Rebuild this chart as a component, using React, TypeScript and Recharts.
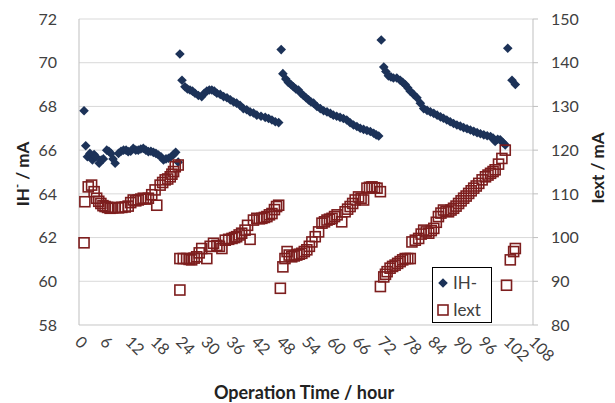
import React from "react";
import { ScatterChart, Scatter, XAxis, YAxis, CartesianGrid, Label } from "recharts";

// IH- (left axis), hours of operation and current in mA
const ihHours = [
  1.2, 1.6, 2.0, 2.6, 3.2, 3.6, 4.0, 4.8, 5.3, 5.8, 6.6, 7.1, 7.6, 8.1, 8.6, 9.4, 10.0, 10.6, 11.2, 11.7,
  12.3, 12.9, 13.5, 14.1, 14.7, 15.3, 15.9, 16.5, 17.1, 17.7, 18.3, 18.9, 19.5, 20.1, 20.7, 21.3, 21.9, 22.5, 23.0, 23.6,
  24.0, 24.5, 25.2, 25.8, 26.4, 27.0, 27.6, 28.4, 29.2, 29.8, 30.4, 31.0, 31.6, 32.2, 32.8, 33.6, 34.4, 35.2, 36.0,
  36.8, 37.5, 38.3, 39.1, 39.9, 40.7, 41.5, 42.3, 43.3, 44.3, 45.1, 45.9, 46.7, 47.5,
  48.1, 48.5, 49.2, 49.8, 50.4, 51.0, 51.6, 52.2, 52.8, 53.4, 54.0, 54.6, 55.2, 55.8, 56.6, 57.4, 58.2, 59.0, 59.8,
  60.5, 61.3, 62.1, 62.9, 63.7, 64.5, 65.3, 66.1, 66.9, 67.7, 68.5, 69.3, 70.1, 70.7, 71.3,
  71.9, 72.5, 73.0, 73.6, 74.2, 74.8, 75.6, 76.4, 77.0, 77.6, 78.2, 78.8, 79.6, 80.4, 81.2, 82.0, 82.8, 83.6, 84.4,
  85.2, 86.0, 86.7, 87.5, 88.3, 89.1, 89.9, 90.7, 91.5, 92.3, 93.1, 93.9, 94.7, 95.5, 96.3, 97.1, 97.9, 98.5, 99.0,
  99.6, 100.2, 100.8, 101.4, 102.0, 103.0, 103.8,
];
const ihValues = [
  67.8, 66.2, 65.7, 65.85, 65.55, 65.8, 65.7, 65.4, 65.55, 65.6, 66.0, 65.95, 65.85, 65.6, 65.4, 65.85, 65.95, 66.0, 66.0, 65.93,
  65.95, 66.08, 66.0, 66.0, 66.05, 66.08, 66.0, 65.93, 65.95, 65.9, 65.85, 65.78, 65.7, 65.55, 65.6, 65.63, 65.7, 65.8, 65.9, 65.45,
  70.4, 69.2, 68.9, 68.8, 68.75, 68.7, 68.6, 68.5, 68.45, 68.6, 68.7, 68.75, 68.75, 68.7, 68.6, 68.55, 68.45, 68.4, 68.3,
  68.2, 68.15, 68.05, 67.9, 67.85, 67.75, 67.7, 67.6, 67.55, 67.5, 67.45, 67.38, 67.3, 67.26,
  70.6, 69.5, 69.25, 69.1, 69.0, 68.9, 68.8, 68.75, 68.6, 68.5, 68.4, 68.3, 68.2, 68.15, 68.0, 67.9, 67.8, 67.75, 67.68,
  67.6, 67.55, 67.5, 67.45, 67.38, 67.25, 67.15, 67.08, 67.0, 66.95, 66.9, 66.85, 66.77, 66.7, 66.65,
  71.04, 69.8, 69.6, 69.4, 69.35, 69.3, 69.3, 69.2, 69.1, 69.0, 68.85, 68.7, 68.55, 68.4, 68.15, 67.9, 67.82, 67.75, 67.68,
  67.6, 67.52, 67.46, 67.38, 67.3, 67.22, 67.15, 67.1, 67.03, 66.98, 66.92, 66.86, 66.8, 66.75, 66.7, 66.66, 66.62, 66.55, 66.4,
  66.5, 66.47, 66.35, 66.24, 70.66, 69.2, 69.0,
];

// Iext (right axis)
const iextHours = [
  1.2, 1.4, 2.2, 3.0, 3.6, 4.2, 4.7, 5.2, 5.7, 6.2, 6.8, 7.4, 8.0, 8.6, 9.4, 10.2, 11.0, 11.7, 12.3, 12.9,
  13.5, 14.1, 14.7, 15.3, 15.9, 16.5, 17.3, 18.1, 18.5, 19.3, 19.9, 20.5, 21.1, 21.7, 22.1, 22.5, 22.9, 23.6,
  24.0, 24.0, 24.8, 25.6, 26.2, 26.8, 27.4, 28.0, 28.6, 29.2, 30.4, 31.2, 32.0, 32.8, 33.4, 34.0, 34.8, 35.6, 36.4,
  37.0, 37.5, 38.1, 38.7, 39.5, 40.1, 40.7, 41.5, 42.3, 42.9, 43.5, 44.1, 44.7, 45.3, 45.9, 46.5, 47.0, 47.5,
  47.9, 48.5, 49.0, 49.5, 50.0, 50.6, 51.2, 51.8, 52.4, 53.0, 53.6, 54.2, 54.8, 55.4, 56.2, 57.0, 57.8, 58.4, 59.0,
  59.6, 60.2, 60.8, 61.4, 62.5, 63.3, 63.9, 64.5, 65.1, 65.7, 66.5, 67.1, 67.7, 68.5, 69.1, 69.7, 70.3, 70.9, 71.7,
  71.7, 72.5, 72.9, 73.3, 74.0, 74.6, 75.2, 75.8, 76.4, 77.0, 77.6, 78.2, 78.8, 79.2, 80.0, 80.8, 81.4, 82.0, 82.6,
  83.2, 83.8, 84.4, 85.0, 85.5, 86.1, 86.7, 87.3, 87.9, 88.5, 89.1, 89.7, 90.3, 90.9, 91.5, 92.1, 92.7, 93.3, 93.9,
  94.5, 95.1, 95.9, 96.7, 97.3, 97.9, 98.5, 99.0, 99.8, 100.6, 101.4, 101.7, 102.6, 103.4, 103.8,
];
const iextValues = [
  98.8, 108.2, 111.6, 112.0, 110.5, 109.0, 108.3, 107.8, 107.3, 107.1, 106.9, 106.7, 106.8, 106.9, 106.8, 106.9, 107.0, 107.2, 108.0, 108.6,
  108.4, 108.6, 108.8, 109.0, 108.8, 109.0, 109.8, 110.9, 107.4, 112.0, 112.6, 113.2, 113.4, 113.9, 114.5, 115.1, 116.2, 116.6,
  88.0, 95.2, 95.2, 95.2, 95.0, 94.9, 95.3, 95.6, 96.5, 97.5, 95.2, 98.0, 98.7, 98.2, 98.0, 97.5, 99.4, 99.6, 99.8,
  100.0, 100.2, 100.6, 101.0, 101.7, 102.8, 99.6, 104.0, 104.4, 104.3, 104.4, 104.6, 104.8, 105.2, 105.5, 106.4, 107.1, 107.4,
  88.4, 93.3, 95.2, 96.8, 96.0, 95.6, 95.8, 96.0, 96.2, 96.4, 96.8, 97.2, 98.0, 99.0, 100.2, 101.3, 103.3, 103.6, 104.0,
  104.2, 104.4, 104.8, 105.2, 103.6, 105.9, 106.5, 107.1, 107.8, 108.6, 109.3, 109.0, 108.6, 111.3, 111.5, 111.6, 111.4, 111.3, 110.5,
  88.8, 91.0, 91.6, 92.2, 93.0, 93.4, 93.7, 94.1, 94.5, 94.9, 95.2, 95.2, 95.2, 99.0, 99.4, 99.8, 100.8, 101.7, 101.3,
  101.0, 101.6, 102.1, 103.5, 104.8, 105.6, 106.3, 106.0, 105.9, 106.3, 106.7, 107.2, 107.8, 108.4, 109.0, 109.5, 110.1, 110.7, 111.3,
  111.8, 112.4, 113.2, 113.9, 114.3, 114.7, 115.1, 115.5, 116.8, 118.1, 120.0, 89.1, 94.9, 96.8, 97.5,
];

const xTicks = [0, 6, 12, 18, 24, 30, 36, 42, 48, 54, 60, 66, 72, 78, 84, 90, 96, 102, 108];
const leftTicks = [58, 60, 62, 64, 66, 68, 70, 72];
const rightTicks = [80, 90, 100, 110, 120, 130, 140, 150];

const ihData = ihHours.map((h, i) => ({ h, v: ihValues[i] }));
const iextData = iextHours.map((h, i) => ({ h, v: iextValues[i] }));

const FONT = "Lato, 'Open Sans', sans-serif";
const NAVY = "#1c3258";
const MAROON = "#7d1e1e";
const TEXT = "#404040";

const Diamond = (props: any) => {
  const { cx, cy } = props;
  const r = 4.8;
  return <polygon points={`${cx},${cy - r} ${cx + r},${cy} ${cx},${cy + r} ${cx - r},${cy}`} fill={NAVY} />;
};

const Square = (props: any) => {
  const { cx, cy } = props;
  return <rect x={cx - 5} y={cy - 5} width={10} height={10} fill="none" stroke={MAROON} strokeWidth={1.6} />;
};

const XTick = ({ x, y, payload }: any) => {
  const bx = x - 5;
  const by = y + 16;
  return (
    <text x={bx} y={by} transform={`rotate(45 ${bx} ${by})`} fontSize={16} fill={TEXT} textAnchor="start" fontFamily={FONT}>
      {payload.value}
    </text>
  );
};

export default function App() {
  return (
    <div style={{ position: "absolute", left: 0, top: 0, width: 615, height: 403, background: "#fff", fontFamily: FONT }}>
      <ScatterChart width={615} height={403} margin={{ top: 19, right: 22, bottom: 18, left: 19 }}>
        <CartesianGrid yAxisId="left" vertical={false} stroke="#d9d9d9" />
        <XAxis
          type="number"
          dataKey="h"
          domain={[0, 108]}
          ticks={xTicks}
          interval={0}
          tick={<XTick />}
          tickLine={false}
          tickSize={0}
          axisLine={{ stroke: "#d9d9d9" }}
          height={60}
        >
          <Label
            content={() => (
              <text x={304} y={399} textAnchor="middle" fontSize={18} fontWeight="bold" fill="#222" fontFamily={FONT}>
                Operation Time / hour
              </text>
            )}
          />
        </XAxis>
        <YAxis
          yAxisId="left"
          type="number"
          dataKey="v"
          domain={[58, 72]}
          ticks={leftTicks}
          interval={0}
          width={60}
          tickLine={false}
          tickSize={6}
          tickMargin={16}
          axisLine={{ stroke: "#bfbfbf" }}
          tick={{ fontSize: 16, fill: TEXT, fontFamily: FONT }}
        >
          <Label
            content={() => (
              <text
                x={22}
                y={174}
                transform="rotate(-90 22 174)"
                textAnchor="middle"
                dominantBaseline="central"
                fontSize={17}
                fontWeight="bold"
                fill="#222"
                fontFamily={FONT}
              >
                IH<tspan dy={-6} fontSize={11}>-</tspan>
                <tspan dy={6}> / mA</tspan>
              </text>
            )}
          />
        </YAxis>
        <YAxis
          yAxisId="right"
          orientation="right"
          type="number"
          dataKey="v"
          domain={[80, 150]}
          ticks={rightTicks}
          interval={0}
          width={60}
          tickSize={5}
          tickMargin={13}
          tickLine={{ stroke: "#bfbfbf" }}
          axisLine={{ stroke: "#bfbfbf" }}
          tick={{ fontSize: 16, fill: TEXT, fontFamily: FONT }}
        >
          <Label
            content={() => (
              <text
                x={597}
                y={168}
                transform="rotate(-90 597 168)"
                textAnchor="middle"
                dominantBaseline="central"
                fontSize={17}
                fontWeight="bold"
                fill="#222"
                fontFamily={FONT}
              >
                Iext / mA
              </text>
            )}
          />
        </YAxis>
        <Scatter yAxisId="left" data={ihData} shape={Diamond} isAnimationActive={false} />
        <Scatter yAxisId="right" data={iextData} shape={Square} isAnimationActive={false} />
      </ScatterChart>
      <div
        style={{
          position: "absolute",
          left: 432,
          top: 267,
          width: 60,
          height: 56,
          boxSizing: "border-box",
          border: "1.5px solid #000",
          background: "#fff",
        }}
      >
        <svg width={57} height={53} style={{ display: "block" }}>
          <Diamond cx={10} cy={15} />
          <text x={20} y={21} fontSize={17} fill={TEXT} fontFamily={FONT}>IH-</text>
          <Square cx={10} cy={42} />
          <text x={20} y={48} fontSize={17} fill={TEXT} fontFamily={FONT}>Iext</text>
        </svg>
      </div>
    </div>
  );
}
